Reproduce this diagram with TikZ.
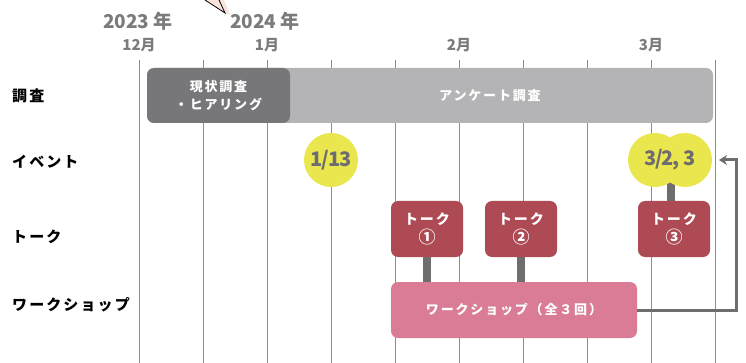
\documentclass[tikz,border=0pt]{standalone}
\usepackage{fontspec}
\setmainfont{Noto Sans CJK JP}
\newfontfamily\jpw{Noto Sans CJK JP}[LetterSpace=14]
\newfontfamily\jpn{Noto Sans CJK JP}[LetterSpace=-6]
\usetikzlibrary{arrows.meta}
\definecolor{gridc}{HTML}{8C8C8C}
\definecolor{darkbar}{HTML}{77777A}
\definecolor{lightbar}{HTML}{B4B4B6}
\definecolor{yel}{HTML}{E9E74D}
\definecolor{ytext}{HTML}{6E6C70}
\definecolor{talkc}{HTML}{AD4A53}
\definecolor{wsc}{HTML}{DA7C96}
\definecolor{conn}{HTML}{6F6D70}
\definecolor{yearc}{HTML}{7B7B7D}
\definecolor{tailc}{HTML}{F9E4DC}
\newcommand{\circnum}[1]{{\fontsize{17}{19}\selectfont #1}}
\pgfdeclarelayer{gridlayer}
\pgfdeclarelayer{connlayer}
\pgfsetlayers{gridlayer,connlayer,main}
\tikzset{
  yearlbl/.style={font=\bfseries\fontsize{19}{21}\selectfont, text=yearc, inner sep=0},
  monthlbl/.style={font=\bfseries\fontsize{15}{17}\selectfont, text=yearc, inner sep=0},
  rowlbl/.style={font=\jpw\bfseries\fontsize{15}{17}\selectfont, anchor=west, inner sep=0},
  bar/.style={rounded corners=7pt, inner sep=0, text=white, align=center,
    font=\jpw\bfseries\fontsize{13}{18}\selectfont},
  talkbox/.style={bar, fill=talkc, minimum width=72pt, minimum height=56pt,
    font=\jpw\bfseries\fontsize{14}{19}\selectfont},
  evt/.style={circle, fill=yel, minimum size=54pt, inner sep=0},
  evtxt/.style={font=\jpn\bfseries\fontsize{20}{21}\selectfont, text=ytext, inner sep=0},
  connbar/.style={draw=conn, line width=8pt},
  gridline/.style={draw=gridc, line width=0.9pt},
}
\begin{document}
\begin{tikzpicture}[x=1pt, y=-1pt]
\useasboundingbox (0,0) rectangle (746,363);
% speech bubble tail (cut off at top)
\fill[tailc] (205,0) -- (225,13) -- (230,15) -- (224,0) -- cycle;
\draw[black, line width=0.8pt] (205,0) -- (225,13) -- (219,0);
% grid
\begin{pgfonlayer}{gridlayer}
\foreach \i in {0,...,9} {
  \draw[gridline] ({139.3+64*\i},60) -- ({139.3+64*\i},363);
}
\end{pgfonlayer}
% headers
\node[yearlbl] (y23) at (138,21) {2023 年};
\node[yearlbl] (y24) at (265,21) {2024 年};
\node[monthlbl] (m12) at (139,45) {12月};
\node[monthlbl] (m1) at (267,45) {1月};
\node[monthlbl] (m2) at (459,45) {2月};
\node[monthlbl] (m3) at (651,45) {3月};
% row labels
\node[rowlbl] (r1) at (12,96) {調査};
\node[rowlbl] (r2) at (12,162) {イベント};
\node[rowlbl] (r3) at (12,237) {トーク};
\node[rowlbl] (r4) at (12,305) {ワークショップ};
% survey bars
\node[bar, fill=lightbar, minimum width=566pt, minimum height=55pt] (anq) at (430,95.5) {};
\node[bar] (anqt) at (490,96) {アンケート調査};
\node[bar, fill=darkbar, minimum width=143pt, minimum height=55pt] (cur) at (218.5,95.5) {現状調査\\・ヒアリング};
% talks and workshop
\node[talkbox] (t1) at (427,229) {トーク\\\circnum{①}};
\node[talkbox] (t2) at (521,229) {トーク\\\circnum{②}};
\node[talkbox] (t3) at (674,229) {トーク\\\circnum{③}};
\node[bar, fill=wsc, minimum width=246pt, minimum height=56pt] (ws) at (514,310) {ワークショップ（全３回）};
% events
\node[evt] (e1) at (331,160) {};
\node[evtxt] (e1t) at (e1) {1/13};
\node[evt] (e2a) at (655,160) {};
\node[evt] (e2b) at (685,160) {};
\node[evtxt] (e2t) at (670,160) {3/2, 3};
% connectors
\begin{pgfonlayer}{connlayer}
\draw[connbar] (t1.south) -- (t1.south |- ws.north);
\draw[connbar] (t2.south) -- (t2.south |- ws.north);
\draw[connbar] ([xshift=-3pt]t3.north) -- ([xshift=-3pt]t3.north |- e2t);
\end{pgfonlayer}
% arrow
\coordinate (arrEnd) at (719,160);
\draw[draw=conn, line width=3pt, -{Stealth[length=8pt, width=10pt]}]
  (ws.east) -- (736,310) -- (736,160) -- (arrEnd);
\end{tikzpicture}
\end{document}
